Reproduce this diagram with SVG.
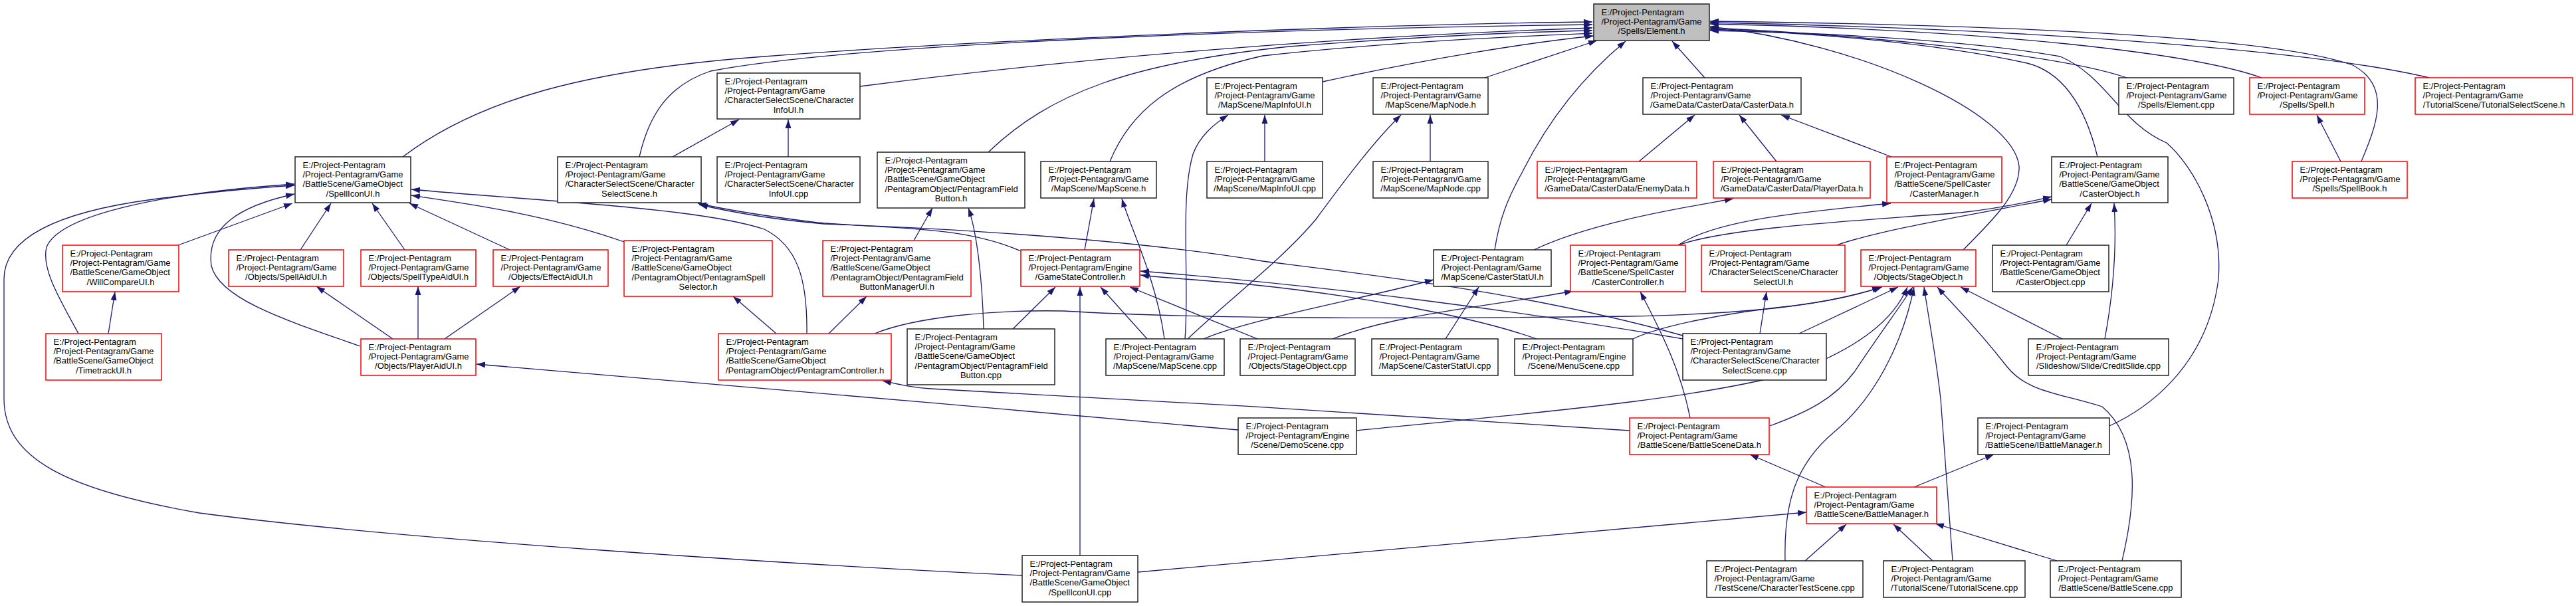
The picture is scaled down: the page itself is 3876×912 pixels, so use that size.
<svg xmlns="http://www.w3.org/2000/svg" width="3876" height="912" viewBox="0 0 3876 912">
<style>
rect{fill:#fff;stroke:#222;stroke-width:1.5}
.r rect{stroke:#f00}
.g rect{fill:#bfbfbf}
text{font-family:"Liberation Sans",Arial,sans-serif;font-size:13px;fill:#000}
.m{text-anchor:middle}
#edges path{fill:none;stroke:#191970;stroke-width:1.3;marker-end:url(#a)}
</style>
<defs>
<marker id="a" markerUnits="userSpaceOnUse" viewBox="0 0 14 10" markerWidth="14" markerHeight="10" refX="13" refY="5" orient="auto"><path d="M0,0.5 L13,5 L0,9.5 z" fill="#191970"/></marker>
</defs>
<rect x="0" y="0" width="3876" height="912" style="fill:#fff;stroke:none"/>
<g id="edges">
<path d="M606,236 C720,150 880,105 1150,85 C1500,58 2100,36 2396,33"/>
<path d="M962,236 C975,180 1000,130 1069,107 C1300,62 2000,42 2396,37"/>
<path d="M1294,130 C1600,90 2000,55 2396,42"/>
<path d="M1487,229 C1580,140 1700,95 1940,70 C2150,54 2300,48 2396,46"/>
<path d="M1670,243 C1700,170 1760,115 1900,84 C2100,62 2300,54 2396,50"/>
<path d="M1990,123 C2150,88 2300,64 2398,54"/>
<path d="M2234,117 L2403,61"/>
<path d="M2249,376 C2256,330 2268,300 2290,260 C2340,160 2400,100 2446,62"/>
<path d="M2565,117 L2516,62"/>
<path d="M2954,376 C3000,330 3040,290 3038,250 C3030,170 2800,65 2573,40"/>
<path d="M3156,236 C3140,170 3110,110 3050,95 C2900,62 2700,48 2573,44"/>
<path d="M3174,641 C3220,620 3320,560 3338,420 C3345,330 3300,250 3260,215 C3190,185 3170,115 3100,85 C2950,58 2700,48 2573,46"/>
<path d="M3200,117 C3100,82 2800,52 2573,42"/>
<path d="M3403,117 C3300,80 3000,45 2573,36"/>
<path d="M3553,243 C3575,190 3600,130 3540,98 C3400,48 2900,36 2573,32"/>
<path d="M3655,117 C3500,80 3100,44 2573,34"/>
<path d="M1012,236 L1112,180"/>
<path d="M1186,236 L1186,180"/>
<path d="M1903,243 L1903,173"/>
<path d="M2152,243 L2152,173"/>
<path d="M2466,243 L2550,173"/>
<path d="M2673,243 L2617,173"/>
<path d="M2846,236 L2680,173"/>
<path d="M3522,243 L3486,173"/>
<path d="M1783,510 C1790,420 1775,300 1795,232 C1805,205 1825,188 1848,173"/>
<path d="M1787,510 C1850,450 1930,390 1980,330 C2030,262 2070,210 2108,173"/>
<path d="M1752,510 C1740,420 1700,340 1688,299"/>
<path d="M1632,376 L1646,299"/>
<path d="M1536,378 C1450,340 1350,345 1230,335 C1150,325 1090,315 1050,306"/>
<path d="M2532,505 C2300,440 2050,412 1900,393 C1700,360 1450,345 1240,337 C1160,330 1095,318 1052,308"/>
<path d="M2312,510 C2200,470 2000,440 1880,428 C1790,420 1750,418 1716,414"/>
<path d="M2532,510 C2300,470 2000,430 1716,408"/>
<path d="M1524,495 L1588,432"/>
<path d="M1625,836 L1625,432"/>
<path d="M1726,510 L1656,432"/>
<path d="M1892,510 L1700,432"/>
<path d="M1375,362 L1403,313"/>
<path d="M1480,495 C1478,420 1470,350 1457,313"/>
<path d="M1168,502 L1103,446"/>
<path d="M1247,502 L1304,446"/>
<path d="M1214,502 C1215,420 1200,370 1150,345 C1050,312 800,302 619,285"/>
<path d="M939,364 C820,322 700,306 619,294"/>
<path d="M268,369 L440,306"/>
<path d="M452,376 L498,306"/>
<path d="M609,376 L560,306"/>
<path d="M767,376 L616,306"/>
<path d="M118,502 C90,450 62,405 70,372 C90,322 250,290 443,277"/>
<path d="M1538,866 C1200,850 600,812 300,772 C100,737 6,690 6,600 L6,420 C6,360 80,320 230,300 C300,291 380,283 443,279"/>
<path d="M542,521 C430,482 330,450 318,400 C310,342 360,310 443,292"/>
<path d="M163,502 L173,439"/>
<path d="M591,510 L476,431"/>
<path d="M629,510 L629,431"/>
<path d="M669,510 L783,431"/>
<path d="M1863,647 C1500,615 1000,570 717,548"/>
<path d="M2452,648 C2200,630 1700,600 1400,585 C1370,583 1350,578 1328,573"/>
<path d="M2543,629 C2530,560 2500,500 2468,439"/>
<path d="M2663,641 C2720,620 2760,600 2790,560 C2830,500 2860,460 2878,432"/>
<path d="M2747,733 L2633,684"/>
<path d="M2880,733 L3000,684"/>
<path d="M2716,844 L2778,789"/>
<path d="M2908,844 L2849,789"/>
<path d="M3095,844 L2912,788"/>
<path d="M1712,861 L2718,771"/>
<path d="M2686,844 C2684,760 2700,700 2760,650 C2820,600 2862,520 2880,432"/>
<path d="M2938,844 L2920,600 C2912,530 2902,480 2895,432"/>
<path d="M3193,844 C3215,750 3220,660 3163,612 C3100,592 3050,590 3020,552 C2965,482 2935,455 2915,432"/>
<path d="M3103,510 L2950,432"/>
<path d="M3167,510 C3180,440 3185,370 3181,306"/>
<path d="M3109,369 L3147,306"/>
<path d="M2525,369 C2600,342 2800,332 2950,320 C3020,312 3060,302 3087,296"/>
<path d="M2763,369 C2830,346 2950,326 3087,300"/>
<path d="M2525,369 C2580,332 2700,320 2845,306"/>
<path d="M2308,376 C2400,332 2550,310 2608,299"/>
<path d="M2175,510 L2225,432"/>
<path d="M1811,510 C1880,480 2050,450 2157,421"/>
<path d="M2648,502 L2658,439"/>
<path d="M2707,502 L2856,432"/>
<path d="M2457,510 C2500,490 2600,470 2700,460 C2760,452 2800,442 2830,432"/>
<path d="M1316,502 C1380,476 1500,466 1600,468 C1800,480 2100,480 2450,476 C2650,472 2760,456 2832,432"/>
<path d="M2005,510 C2100,472 2250,460 2367,438"/>
<path d="M2041,648 C2300,622 2550,602 2700,560 C2800,522 2850,480 2870,432"/>
</g>

<g id="n_element" class="g"><rect x="2398" y="6" width="174" height="55"/><text x="2409.5" y="22.5">E:/Project-Pentagram</text><text x="2409.5" y="36.9">/Project-Pentagram/Game</text><text class="m" x="2485" y="51.3">/Spells/Element.h</text></g>

<g id="n_spelliconui_h"><rect x="444" y="236" width="174" height="69"/><text x="455.5" y="252.5">E:/Project-Pentagram</text><text x="455.5" y="266.9">/Project-Pentagram/Game</text><text x="455.5" y="281.3">/BattleScene/GameObject</text><text class="m" x="531" y="295.7">/SpellIconUI.h</text></g>

<g id="n_charselscene_h"><rect x="839" y="236" width="216" height="69"/><text x="850.5" y="252.5">E:/Project-Pentagram</text><text x="850.5" y="266.9">/Project-Pentagram/Game</text><text x="850.5" y="281.3">/CharacterSelectScene/Character</text><text class="m" x="947" y="295.7">SelectScene.h</text></g>

<g id="n_charinfoui_h"><rect x="1079" y="110" width="215" height="69"/><text x="1090.5" y="126.5">E:/Project-Pentagram</text><text x="1090.5" y="140.9">/Project-Pentagram/Game</text><text x="1090.5" y="155.3">/CharacterSelectScene/Character</text><text class="m" x="1186.5" y="169.7">InfoUI.h</text></g>

<g id="n_charinfoui_cpp"><rect x="1079" y="236" width="215" height="69"/><text x="1090.5" y="252.5">E:/Project-Pentagram</text><text x="1090.5" y="266.9">/Project-Pentagram/Game</text><text x="1090.5" y="281.3">/CharacterSelectScene/Character</text><text class="m" x="1186.5" y="295.7">InfoUI.cpp</text></g>

<g id="n_pfb_h"><rect x="1320" y="229" width="222" height="84"/><text x="1331.5" y="245.5">E:/Project-Pentagram</text><text x="1331.5" y="259.9">/Project-Pentagram/Game</text><text x="1331.5" y="274.3">/BattleScene/GameObject</text><text x="1331.5" y="288.7">/PentagramObject/PentagramField</text><text class="m" x="1431" y="303.1">Button.h</text></g>

<g id="n_mapscene_h"><rect x="1566" y="243" width="174" height="55"/><text x="1577.5" y="259.5">E:/Project-Pentagram</text><text x="1577.5" y="273.9">/Project-Pentagram/Game</text><text class="m" x="1653" y="288.3">/MapScene/MapScene.h</text></g>

<g id="n_mapinfoui_h"><rect x="1816" y="117" width="174" height="55"/><text x="1827.5" y="133.5">E:/Project-Pentagram</text><text x="1827.5" y="147.9">/Project-Pentagram/Game</text><text class="m" x="1903" y="162.3">/MapScene/MapInfoUI.h</text></g>

<g id="n_mapinfoui_cpp"><rect x="1816" y="243" width="174" height="55"/><text x="1827.5" y="259.5">E:/Project-Pentagram</text><text x="1827.5" y="273.9">/Project-Pentagram/Game</text><text class="m" x="1903" y="288.3">/MapScene/MapInfoUI.cpp</text></g>

<g id="n_mapnode_h"><rect x="2066" y="117" width="173" height="55"/><text x="2077.5" y="133.5">E:/Project-Pentagram</text><text x="2077.5" y="147.9">/Project-Pentagram/Game</text><text class="m" x="2152.5" y="162.3">/MapScene/MapNode.h</text></g>

<g id="n_mapnode_cpp"><rect x="2066" y="243" width="173" height="55"/><text x="2077.5" y="259.5">E:/Project-Pentagram</text><text x="2077.5" y="273.9">/Project-Pentagram/Game</text><text class="m" x="2152.5" y="288.3">/MapScene/MapNode.cpp</text></g>

<g id="n_casterdata_h"><rect x="2472" y="117" width="238" height="55"/><text x="2483.5" y="133.5">E:/Project-Pentagram</text><text x="2483.5" y="147.9">/Project-Pentagram/Game</text><text class="m" x="2591" y="162.3">/GameData/CasterData/CasterData.h</text></g>

<g id="n_enemydata_h" class="r"><rect x="2313" y="243" width="240" height="55"/><text x="2324.5" y="259.5">E:/Project-Pentagram</text><text x="2324.5" y="273.9">/Project-Pentagram/Game</text><text class="m" x="2433" y="288.3">/GameData/CasterData/EnemyData.h</text></g>

<g id="n_playerdata_h" class="r"><rect x="2578" y="243" width="236" height="55"/><text x="2589.5" y="259.5">E:/Project-Pentagram</text><text x="2589.5" y="273.9">/Project-Pentagram/Game</text><text class="m" x="2696" y="288.3">/GameData/CasterData/PlayerData.h</text></g>

<g id="n_castermanager_h" class="r"><rect x="2839" y="236" width="173" height="69"/><text x="2850.5" y="252.5">E:/Project-Pentagram</text><text x="2850.5" y="266.9">/Project-Pentagram/Game</text><text x="2850.5" y="281.3">/BattleScene/SpellCaster</text><text class="m" x="2925.5" y="295.7">/CasterManager.h</text></g>

<g id="n_element_cpp"><rect x="3188" y="117" width="173" height="55"/><text x="3199.5" y="133.5">E:/Project-Pentagram</text><text x="3199.5" y="147.9">/Project-Pentagram/Game</text><text class="m" x="3274.5" y="162.3">/Spells/Element.cpp</text></g>

<g id="n_spell_h" class="r"><rect x="3385" y="117" width="173" height="55"/><text x="3396.5" y="133.5">E:/Project-Pentagram</text><text x="3396.5" y="147.9">/Project-Pentagram/Game</text><text class="m" x="3471.5" y="162.3">/Spells/Spell.h</text></g>

<g id="n_tutselscene_h" class="r"><rect x="3634" y="117" width="237" height="55"/><text x="3645.5" y="133.5">E:/Project-Pentagram</text><text x="3645.5" y="147.9">/Project-Pentagram/Game</text><text class="m" x="3752.5" y="162.3">/TutorialScene/TutorialSelectScene.h</text></g>

<g id="n_spellbook_h" class="r"><rect x="3449" y="243" width="173" height="55"/><text x="3460.5" y="259.5">E:/Project-Pentagram</text><text x="3460.5" y="273.9">/Project-Pentagram/Game</text><text class="m" x="3535.5" y="288.3">/Spells/SpellBook.h</text></g>

<g id="n_casterobject_h"><rect x="3087" y="236" width="175" height="69"/><text x="3098.5" y="252.5">E:/Project-Pentagram</text><text x="3098.5" y="266.9">/Project-Pentagram/Game</text><text x="3098.5" y="281.3">/BattleScene/GameObject</text><text class="m" x="3174.5" y="295.7">/CasterObject.h</text></g>

<g id="n_willcompareui_h" class="r"><rect x="94" y="369" width="175" height="70"/><text x="105.5" y="385.5">E:/Project-Pentagram</text><text x="105.5" y="399.9">/Project-Pentagram/Game</text><text x="105.5" y="414.3">/BattleScene/GameObject</text><text class="m" x="181.5" y="428.7">/WillCompareUI.h</text></g>

<g id="n_spellaidui_h" class="r"><rect x="344" y="376" width="173" height="55"/><text x="355.5" y="392.5">E:/Project-Pentagram</text><text x="355.5" y="406.9">/Project-Pentagram/Game</text><text class="m" x="430.5" y="421.3">/Objects/SpellAidUI.h</text></g>

<g id="n_spelltypeaidui_h" class="r"><rect x="543" y="376" width="173" height="55"/><text x="554.5" y="392.5">E:/Project-Pentagram</text><text x="554.5" y="406.9">/Project-Pentagram/Game</text><text class="m" x="629.5" y="421.3">/Objects/SpellTypeAidUI.h</text></g>

<g id="n_effectaidui_h" class="r"><rect x="742" y="376" width="173" height="55"/><text x="753.5" y="392.5">E:/Project-Pentagram</text><text x="753.5" y="406.9">/Project-Pentagram/Game</text><text class="m" x="828.5" y="421.3">/Objects/EffectAidUI.h</text></g>

<g id="n_pentagramspellselector_h" class="r"><rect x="939" y="362" width="223" height="84"/><text x="950.5" y="378.5">E:/Project-Pentagram</text><text x="950.5" y="392.9">/Project-Pentagram/Game</text><text x="950.5" y="407.3">/BattleScene/GameObject</text><text x="950.5" y="421.7">/PentagramObject/PentagramSpell</text><text class="m" x="1050.5" y="436.1">Selector.h</text></g>

<g id="n_timetrackui_h" class="r"><rect x="69" y="502" width="174" height="70"/><text x="80.5" y="518.5">E:/Project-Pentagram</text><text x="80.5" y="532.9">/Project-Pentagram/Game</text><text x="80.5" y="547.3">/BattleScene/GameObject</text><text class="m" x="156" y="561.7">/TimetrackUI.h</text></g>

<g id="n_playeraidui_h" class="r"><rect x="543" y="510" width="173" height="55"/><text x="554.5" y="526.5">E:/Project-Pentagram</text><text x="554.5" y="540.9">/Project-Pentagram/Game</text><text class="m" x="629.5" y="555.3">/Objects/PlayerAidUI.h</text></g>

<g id="n_pfbmanagerui_h" class="r"><rect x="1238" y="362" width="223" height="84"/><text x="1249.5" y="378.5">E:/Project-Pentagram</text><text x="1249.5" y="392.9">/Project-Pentagram/Game</text><text x="1249.5" y="407.3">/BattleScene/GameObject</text><text x="1249.5" y="421.7">/PentagramObject/PentagramField</text><text class="m" x="1349.5" y="436.1">ButtonManagerUI.h</text></g>

<g id="n_gamestatecontroller_h" class="r"><rect x="1536" y="376" width="179" height="55"/><text x="1547.5" y="392.5">E:/Project-Pentagram</text><text x="1547.5" y="406.9">/Project-Pentagram/Engine</text><text class="m" x="1625.5" y="421.3">/GameStateController.h</text></g>

<g id="n_pentagramcontroller_h" class="r"><rect x="1081" y="502" width="260" height="70"/><text x="1092.5" y="518.5">E:/Project-Pentagram</text><text x="1092.5" y="532.9">/Project-Pentagram/Game</text><text x="1092.5" y="547.3">/BattleScene/GameObject</text><text class="m" x="1211" y="561.7">/PentagramObject/PentagramController.h</text></g>

<g id="n_pfb_cpp"><rect x="1365" y="495" width="222" height="84"/><text x="1376.5" y="511.5">E:/Project-Pentagram</text><text x="1376.5" y="525.9">/Project-Pentagram/Game</text><text x="1376.5" y="540.3">/BattleScene/GameObject</text><text x="1376.5" y="554.7">/PentagramObject/PentagramField</text><text class="m" x="1476" y="569.1">Button.cpp</text></g>

<g id="n_mapscene_cpp"><rect x="1664" y="510" width="178" height="55"/><text x="1675.5" y="526.5">E:/Project-Pentagram</text><text x="1675.5" y="540.9">/Project-Pentagram/Game</text><text class="m" x="1753" y="555.3">/MapScene/MapScene.cpp</text></g>

<g id="n_stageobject_cpp"><rect x="1866" y="510" width="173" height="55"/><text x="1877.5" y="526.5">E:/Project-Pentagram</text><text x="1877.5" y="540.9">/Project-Pentagram/Game</text><text class="m" x="1952.5" y="555.3">/Objects/StageObject.cpp</text></g>

<g id="n_casterstatui_h"><rect x="2157" y="376" width="177" height="55"/><text x="2168.5" y="392.5">E:/Project-Pentagram</text><text x="2168.5" y="406.9">/Project-Pentagram/Game</text><text class="m" x="2245.5" y="421.3">/MapScene/CasterStatUI.h</text></g>

<g id="n_castercontroller_h" class="r"><rect x="2363" y="369" width="173" height="70"/><text x="2374.5" y="385.5">E:/Project-Pentagram</text><text x="2374.5" y="399.9">/Project-Pentagram/Game</text><text x="2374.5" y="414.3">/BattleScene/SpellCaster</text><text class="m" x="2449.5" y="428.7">/CasterController.h</text></g>

<g id="n_charselectui_h" class="r"><rect x="2560" y="369" width="216" height="70"/><text x="2571.5" y="385.5">E:/Project-Pentagram</text><text x="2571.5" y="399.9">/Project-Pentagram/Game</text><text x="2571.5" y="414.3">/CharacterSelectScene/Character</text><text class="m" x="2668" y="428.7">SelectUI.h</text></g>

<g id="n_stageobject_h" class="r"><rect x="2800" y="376" width="173" height="55"/><text x="2811.5" y="392.5">E:/Project-Pentagram</text><text x="2811.5" y="406.9">/Project-Pentagram/Game</text><text class="m" x="2886.5" y="421.3">/Objects/StageObject.h</text></g>

<g id="n_casterstatui_cpp"><rect x="2064" y="510" width="190" height="55"/><text x="2075.5" y="526.5">E:/Project-Pentagram</text><text x="2075.5" y="540.9">/Project-Pentagram/Game</text><text class="m" x="2159" y="555.3">/MapScene/CasterStatUI.cpp</text></g>

<g id="n_menuscene_cpp"><rect x="2279" y="510" width="178" height="55"/><text x="2290.5" y="526.5">E:/Project-Pentagram</text><text x="2290.5" y="540.9">/Project-Pentagram/Engine</text><text class="m" x="2368" y="555.3">/Scene/MenuScene.cpp</text></g>

<g id="n_charselscene_cpp"><rect x="2532" y="502" width="216" height="70"/><text x="2543.5" y="518.5">E:/Project-Pentagram</text><text x="2543.5" y="532.9">/Project-Pentagram/Game</text><text x="2543.5" y="547.3">/CharacterSelectScene/Character</text><text class="m" x="2640" y="561.7">SelectScene.cpp</text></g>

<g id="n_casterobject_cpp"><rect x="2998" y="369" width="175" height="70"/><text x="3009.5" y="385.5">E:/Project-Pentagram</text><text x="3009.5" y="399.9">/Project-Pentagram/Game</text><text x="3009.5" y="414.3">/BattleScene/GameObject</text><text class="m" x="3085.5" y="428.7">/CasterObject.cpp</text></g>

<g id="n_creditslide_cpp"><rect x="3052" y="510" width="211" height="55"/><text x="3063.5" y="526.5">E:/Project-Pentagram</text><text x="3063.5" y="540.9">/Project-Pentagram/Game</text><text class="m" x="3157.5" y="555.3">/Slideshow/Slide/CreditSlide.cpp</text></g>

<g id="n_spelliconui_cpp"><rect x="1538" y="836" width="174" height="70"/><text x="1549.5" y="852.5">E:/Project-Pentagram</text><text x="1549.5" y="866.9">/Project-Pentagram/Game</text><text x="1549.5" y="881.3">/BattleScene/GameObject</text><text class="m" x="1625" y="895.7">/SpellIconUI.cpp</text></g>

<g id="n_demoscene_cpp"><rect x="1863" y="629" width="178" height="55"/><text x="1874.5" y="645.5">E:/Project-Pentagram</text><text x="1874.5" y="659.9">/Project-Pentagram/Engine</text><text class="m" x="1952" y="674.3">/Scene/DemoScene.cpp</text></g>

<g id="n_battlescenedata_h" class="r"><rect x="2452" y="629" width="210" height="55"/><text x="2463.5" y="645.5">E:/Project-Pentagram</text><text x="2463.5" y="659.9">/Project-Pentagram/Game</text><text class="m" x="2557" y="674.3">/BattleScene/BattleSceneData.h</text></g>

<g id="n_battlemanager_h" class="r"><rect x="2718" y="733" width="196" height="55"/><text x="2729.5" y="749.5">E:/Project-Pentagram</text><text x="2729.5" y="763.9">/Project-Pentagram/Game</text><text class="m" x="2816" y="778.3">/BattleScene/BattleManager.h</text></g>

<g id="n_chartestscene_cpp"><rect x="2568" y="844" width="235" height="55"/><text x="2579.5" y="860.5">E:/Project-Pentagram</text><text x="2579.5" y="874.9">/Project-Pentagram/Game</text><text class="m" x="2685.5" y="889.3">/TestScene/CharacterTestScene.cpp</text></g>

<g id="n_tutorialscene_cpp"><rect x="2834" y="844" width="213" height="55"/><text x="2845.5" y="860.5">E:/Project-Pentagram</text><text x="2845.5" y="874.9">/Project-Pentagram/Game</text><text class="m" x="2940.5" y="889.3">/TutorialScene/TutorialScene.cpp</text></g>

<g id="n_ibattlemanager_h"><rect x="2976" y="629" width="198" height="55"/><text x="2987.5" y="645.5">E:/Project-Pentagram</text><text x="2987.5" y="659.9">/Project-Pentagram/Game</text><text class="m" x="3075" y="674.3">/BattleScene/IBattleManager.h</text></g>

<g id="n_battlescene_cpp"><rect x="3085" y="844" width="197" height="55"/><text x="3096.5" y="860.5">E:/Project-Pentagram</text><text x="3096.5" y="874.9">/Project-Pentagram/Game</text><text class="m" x="3183.5" y="889.3">/BattleScene/BattleScene.cpp</text></g>
</svg>
